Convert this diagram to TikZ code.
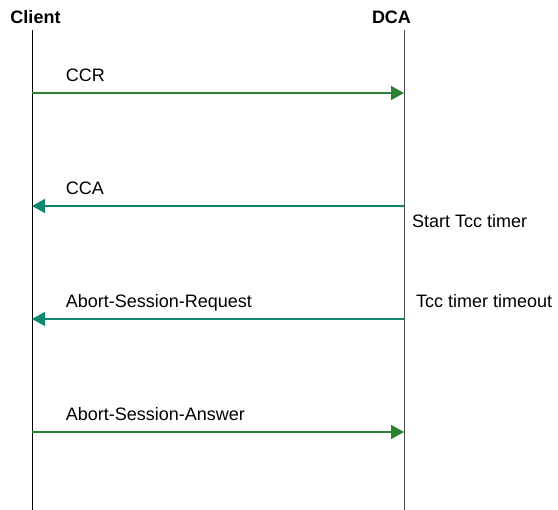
\documentclass[tikz,border=0pt]{standalone}
\usepackage{fontspec}
\setmainfont{Liberation Sans}
\usetikzlibrary{arrows.meta}
\definecolor{msggreen}{RGB}{46,128,52}
\definecolor{msgteal}{RGB}{18,135,112}

\begin{document}
\begin{tikzpicture}[x=1pt,y=1pt,
        font=\fontsize{18}{21}\selectfont,
        party/.style={font=\fontsize{18}{21}\selectfont\bfseries, anchor=base},
        lifeline/.style={line width=0.8pt},
        msg/.style={line width=1.5pt, -{Triangle[length=13pt,width=14pt]}},
        lbl/.style={anchor=base west, inner sep=0pt, yshift=11pt},
        note/.style={anchor=base west, inner sep=0pt}]
            \useasboundingbox (0,0) rectangle (558,-510);
            \node[party](client) at (35.5,-24) {Client};
            \node[party](dca)    at (391.5,-24) {DCA};
            \coordinate (ctop) at (32,-30);
            \coordinate (cbot) at (32,-510);
            \coordinate (dtop) at (404,-30);
            \coordinate (dbot) at (404,-510);
            \draw[lifeline, black]        (ctop) -- (cbot);
            \draw[lifeline, black!70]     (dtop) -- (dbot);
            \coordinate (c1) at (32,-93);   \coordinate (d1) at (404,-93);
            \coordinate (c2) at (32,-206);  \coordinate (d2) at (404,-206);
            \coordinate (c3) at (32,-319);  \coordinate (d3) at (404,-319);
            \coordinate (c4) at (32,-432);  \coordinate (d4) at (404,-432);
            \path
                (c1) edge [msg, msggreen] node[lbl, pos=0.089, black] {CCR} (d1)
                (d2) edge [msg, msgteal]  node[lbl, pos=0.911, black] {CCA} (c2)
                (d3) edge [msg, msgteal]  node[lbl, pos=0.911, black] {Abort-Session-Request} (c3)
                (c4) edge [msg, msggreen] node[lbl, pos=0.089, black] {Abort-Session-Answer} (d4)
                ;
            \node[note](start)   at (412,-228) {Start Tcc timer};
            \node[note](timeout) at (416,-308) {Tcc timer timeout};
        \end{tikzpicture}
\end{document}
